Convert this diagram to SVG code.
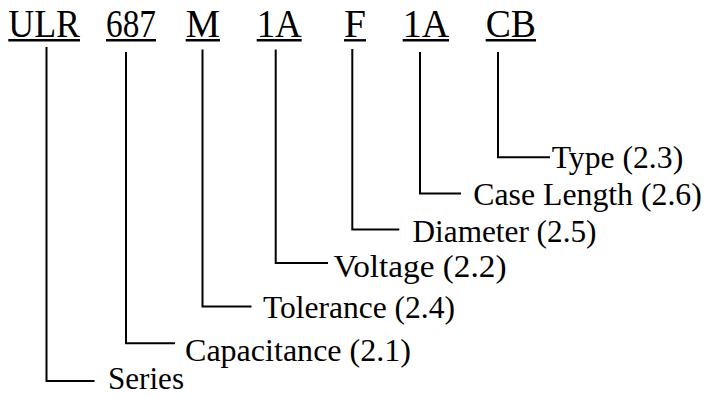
<svg xmlns="http://www.w3.org/2000/svg" width="706" height="397" viewBox="0 0 706 397">
<style>
text{font-family:'Liberation Serif','Times New Roman',Times,'DejaVu Serif',serif;fill:#000}
.code{font-size:40px}
.lbl{font-size:31.5px}
.ul{stroke:#000;stroke-width:2.4;fill:none}
.ln{stroke:#000;stroke-width:2;fill:none;stroke-linecap:square}
</style>
<rect width="706" height="397" fill="#fff"/>
<g id="code">
<g id="c-ulr"><text class="code" x="8.3" y="36.5" textLength="71.7" lengthAdjust="spacingAndGlyphs">ULR</text><line class="ul" x1="8.3" y1="40.3" x2="80" y2="40.3"/></g>
<g id="c-687"><text class="code" x="106" y="36.5" textLength="50" lengthAdjust="spacingAndGlyphs">687</text><line class="ul" x1="106" y1="40.3" x2="156" y2="40.3"/></g>
<g id="c-m"><text class="code" x="185.7" y="36.5" textLength="34.3" lengthAdjust="spacingAndGlyphs">M</text><line class="ul" x1="185.7" y1="40.3" x2="220" y2="40.3"/></g>
<g id="c-1a"><text class="code" x="256.7" y="36.5" textLength="45" lengthAdjust="spacingAndGlyphs">1A</text><line class="ul" x1="256.7" y1="40.3" x2="301.7" y2="40.3"/></g>
<g id="c-f"><text class="code" x="344" y="36.5" textLength="22" lengthAdjust="spacingAndGlyphs">F</text><line class="ul" x1="344" y1="40.3" x2="366" y2="40.3"/></g>
<g id="c-1a2"><text class="code" x="402.7" y="36.5" textLength="46.3" lengthAdjust="spacingAndGlyphs">1A</text><line class="ul" x1="402.7" y1="40.3" x2="449" y2="40.3"/></g>
<g id="c-cb"><text class="code" x="485.7" y="36.5" textLength="50.3" lengthAdjust="spacingAndGlyphs">CB</text><line class="ul" x1="485.7" y1="40.3" x2="536" y2="40.3"/></g>
</g>
<g id="connectors">
<polyline class="ln" points="46.5,48 46.5,381 93.5,381"/>
<polyline class="ln" points="126,53 126,343.3 174,343.3"/>
<polyline class="ln" points="202.5,50.5 202.5,306.5 250.5,306.5"/>
<polyline class="ln" points="275.7,50.5 275.7,263 327,263"/>
<polyline class="ln" points="352.3,50 352.3,229.5 398.3,229.5"/>
<polyline class="ln" points="420,53 420,193.5 460,193.5"/>
<polyline class="ln" points="498,53 498,157.3 549,157.3"/>
</g>
<g id="l-series"><text class="lbl" x="108" y="388.5" textLength="76" lengthAdjust="spacingAndGlyphs">Series</text></g>
<g id="l-cap"><text class="lbl" x="185" y="361" textLength="226" lengthAdjust="spacingAndGlyphs">Capacitance (2.1)</text></g>
<g id="l-tol"><text class="lbl" x="263" y="318.3">Tolerance (2.4)</text></g>
<g id="l-volt"><text class="lbl" x="333.5" y="276.7" textLength="173" lengthAdjust="spacingAndGlyphs">Voltage (2.2)</text></g>
<g id="l-dia"><text class="lbl" x="412.5" y="241.7" textLength="184" lengthAdjust="spacingAndGlyphs">Diameter (2.5)</text></g>
<g id="l-case"><text class="lbl" x="473.3" y="205" textLength="228.5" lengthAdjust="spacingAndGlyphs">Case Length (2.6)</text></g>
<g id="l-type"><text class="lbl" x="551.7" y="168.3" textLength="131.5" lengthAdjust="spacingAndGlyphs">Type (2.3)</text></g>
</svg>
